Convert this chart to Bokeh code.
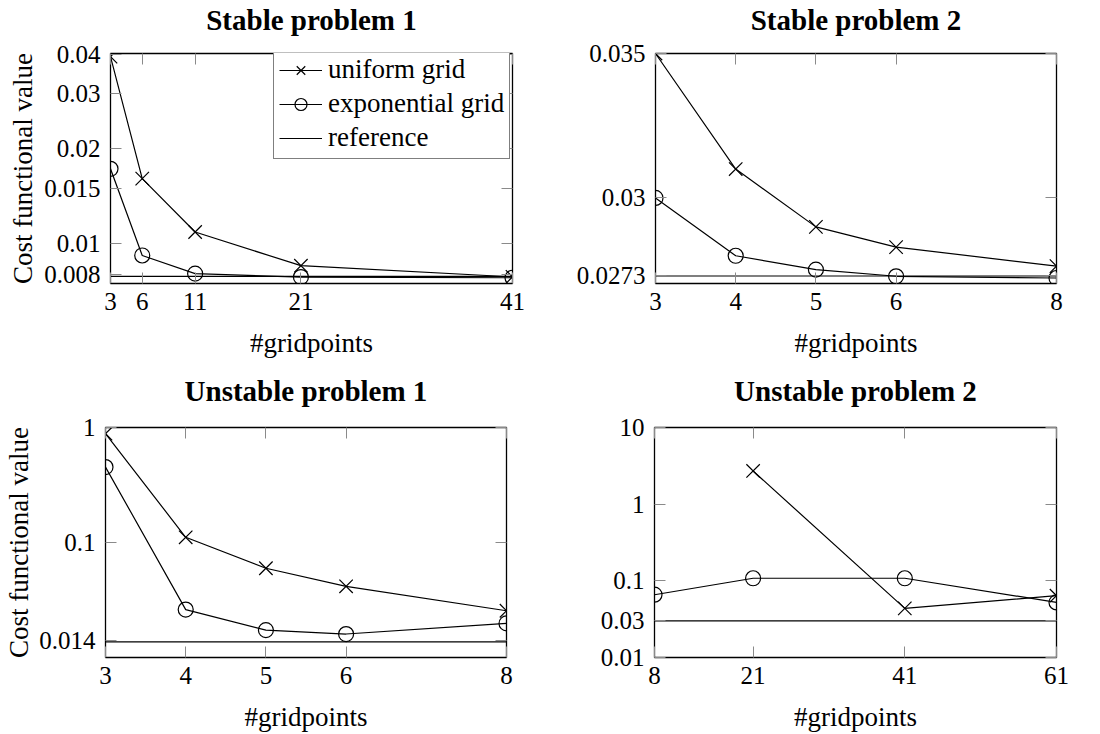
import math
from bokeh.plotting import figure
from bokeh.layouts import column, row
from bokeh.models import (FixedTicker, Range1d, LinearAxis, LogAxis, Legend,
                          LegendItem, CustomJSTickFormatter)
from bokeh.embed import file_html
from bokeh.resources import INLINE

NAN = float("nan")

# ---------------- data ----------------
s1_x = [3, 6, 11, 21, 41]
s1_uniform = [0.0393, 0.0161, 0.0109, 0.00852, 0.00785]
s1_exponential = [0.0173, 0.00918, 0.00804, 0.00784, 0.00780]
s1_reference = 0.00788
s1_xticks = [3, 6, 11, 21, 41]
s1_yticks = [0.008, 0.01, 0.015, 0.02, 0.03, 0.04]
s1_ytick_labels = ["0.008", "0.01", "0.015", "0.02", "0.03", "0.04"]

s2_x = [3, 4, 5, 6, 8]
s2_uniform = [0.0350, 0.0310, 0.0290, 0.0283, 0.02764]
s2_exponential = [0.0300, 0.0280, 0.02752, 0.02729, 0.02723]
s2_reference = 0.0273
s2_xticks = [3, 4, 5, 6, 8]
s2_yticks = [0.0273, 0.03, 0.035]
s2_ytick_labels = ["0.0273", "0.03", "0.035"]

u1_x = [3, 4, 5, 6, 8]
u1_uniform = [0.883, 0.111, 0.0597, 0.0416, 0.0255]
u1_exponential = [0.453, 0.0261, 0.0173, 0.0160, 0.0198]
u1_reference = 0.0137
u1_xticks = [3, 4, 5, 6, 8]
u1_yticks = [0.014, 0.1, 1]
u1_ytick_labels = ["0.014", "0.1", "1"]

u2_x = [8, 21, 41, 61]
u2_uniform = [NAN, 2.71, 0.0437, 0.064]
u2_exponential = [0.0659, 0.108, 0.108, 0.0523]
u2_reference = 0.03
u2_xticks = [8, 21, 41, 61]
u2_yticks = [0.01, 0.03, 0.1, 1, 10]
u2_ytick_labels = ["0.01", "0.03", "0.1", "1", "10"]

titles = ["Stable problem 1", "Stable problem 2", "Unstable problem 1", "Unstable problem 2"]
x_label = "#gridpoints"
y_label = "Cost functional value"
series_names = ["uniform grid", "exponential grid", "reference"]

FONT = "Liberation Serif"


def style_axis(ax, with_labels=True):
    ax.major_tick_in = 11
    ax.major_tick_out = 0
    ax.minor_tick_in = 0
    ax.minor_tick_out = 0
    ax.major_tick_line_color = "#8a8a8a"
    ax.major_tick_line_width = 1
    ax.axis_line_color = None
    ax.major_label_text_font = FONT
    ax.major_label_text_color = "black"
    if with_labels:
        ax.major_label_text_font_size = "25px"
    else:
        ax.major_label_text_font_size = "1px"
        ax.major_label_standoff = 0
        ax.formatter = CustomJSTickFormatter(code="return ''")


def make_plot(title, xs, uni, expo, ref, xticks, yticks, ylabels, ytype, yr,
              left, right, top, bottom, fw, fh, ylab, ylab_stand, tstand, xlab_stand):
    p = figure(title=None, y_axis_type=ytype, output_backend="svg",
               toolbar_location=None, frame_width=fw, frame_height=fh,
               min_border_left=left, min_border_right=right,
               min_border_top=top, min_border_bottom=bottom,
               x_range=Range1d(xs[0], xs[-1]), y_range=Range1d(*yr))
    p.xgrid.visible = False
    p.ygrid.visible = False
    p.outline_line_color = "black"
    p.outline_line_width = 1.3
    p.background_fill_color = "white"
    p.border_fill_color = "white"

    xt = FixedTicker(ticks=xticks, minor_ticks=[])
    yt = FixedTicker(ticks=yticks, minor_ticks=[])
    overrides = {v: s for v, s in zip(yticks, ylabels)}

    xa = p.xaxis[0]
    xa.ticker = xt
    style_axis(xa)
    xa.major_label_standoff = 9
    xa.axis_label = x_label
    xa.axis_label_text_font = FONT
    xa.axis_label_text_font_style = "normal"
    xa.axis_label_text_font_size = "27px"
    xa.axis_label_text_color = "black"
    xa.axis_label_standoff = xlab_stand

    ya = p.yaxis[0]
    ya.ticker = yt
    style_axis(ya)
    ya.major_label_overrides = overrides
    ya.major_label_standoff = 10
    if ylab:
        ya.axis_label = y_label
        ya.axis_label_text_font = FONT
        ya.axis_label_text_font_style = "normal"
        ya.axis_label_text_font_size = "27px"
        ya.axis_label_text_color = "black"
        ya.axis_label_standoff = ylab_stand

    # top axis: mirrored ticks, carries the panel title
    top_ax = LinearAxis(ticker=FixedTicker(ticks=xticks, minor_ticks=[]))
    style_axis(top_ax, with_labels=False)
    top_ax.axis_label = title
    top_ax.axis_label_text_font = FONT
    top_ax.axis_label_text_font_style = "bold"
    top_ax.axis_label_text_font_size = "29px"
    top_ax.axis_label_text_color = "black"
    top_ax.axis_label_standoff = tstand
    p.add_layout(top_ax, "above")
    if ytype == "log":
        right_ax = LogAxis(ticker=FixedTicker(ticks=yticks, minor_ticks=[]))
    else:
        right_ax = LinearAxis(ticker=FixedTicker(ticks=yticks, minor_ticks=[]))
    style_axis(right_ax, with_labels=False)
    p.add_layout(right_ax, "right")

    lu = p.line(xs, uni, line_color="black", line_width=1.2)
    su = p.scatter(xs, uni, marker="x", size=19, line_color="black", line_width=1.2)
    le = p.line(xs, expo, line_color="black", line_width=1.2)
    se = p.scatter(xs, expo, marker="circle", size=15, line_color="black",
                   line_width=1.2, fill_color=None)
    lr = p.line([xs[0], xs[-1]], [ref, ref], line_color="black", line_width=1.2)
    return p, [(lu, su), (le, se), (lr,)]


p1, r1 = make_plot(titles[0], s1_x, s1_uniform, s1_exponential, s1_reference,
                   s1_xticks, s1_yticks, s1_ytick_labels, "log", (0.00748, 0.0402),
                   110, 38, 52, 88, 402, 230, True, 3, 18, 15)
p2, _ = make_plot(titles[1], s2_x, s2_uniform, s2_exponential, s2_reference,
                  s2_xticks, s2_yticks, s2_ytick_labels, "linear", (0.02704, 0.035),
                  105, 44, 52, 88, 401, 230, False, 0, 18, 15)
p3, _ = make_plot(titles[2], u1_x, u1_uniform, u1_exponential, u1_reference,
                  u1_xticks, u1_yticks, u1_ytick_labels, "log", (0.01, 1.0),
                  105, 44, 55, 79, 401, 230, True, 2, 21, 15)
p4, _ = make_plot(titles[3], u2_x, u2_uniform, u2_exponential, u2_reference,
                  u2_xticks, u2_yticks, u2_ytick_labels, "log", (0.01, 10.0),
                  104, 44, 55, 79, 402, 230, False, 0, 21, 15)

items = [LegendItem(label=series_names[i], renderers=list(r1[i])) for i in range(3)]
legend = Legend(items=items, location=(163, 124), orientation="vertical",
                border_line_color="black", border_line_width=1.2,
                background_fill_color="white", background_fill_alpha=1.0,
                padding=5, spacing=3, margin=0, glyph_width=43, glyph_height=30,
                label_height=30, label_standoff=6, label_text_font=FONT,
                label_text_font_size="27px", label_text_color="black")
p1.add_layout(legend, "center")

layout = column(row(p1, p2), row(p3, p4))
open("out.html", "w").write(file_html(layout, INLINE))
